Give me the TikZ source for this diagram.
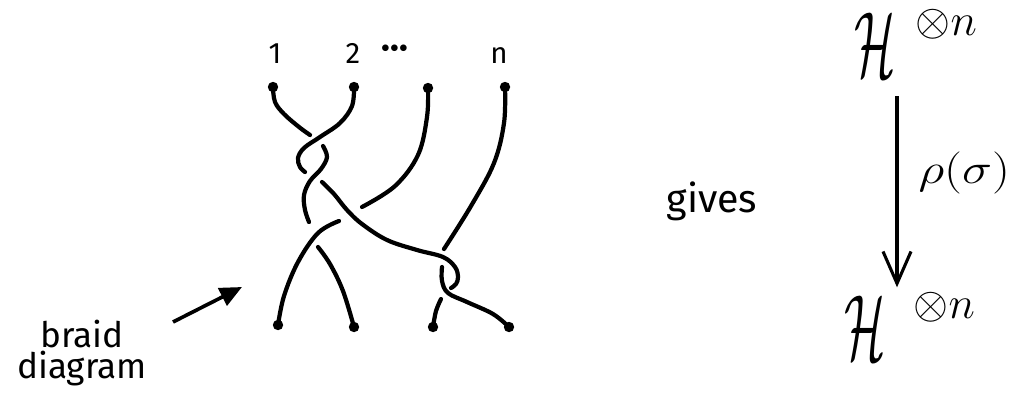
\RequirePackage{fix-cm}
\documentclass[tikz,border=0pt]{standalone}
\usepackage{fontspec}
\setmainfont{Fira Sans}
\usetikzlibrary{arrows.meta}
\begin{document}
\begin{tikzpicture}[x=0.25mm,y=-0.25mm,
  strand/.style={line width=3pt, line cap=round, line join=round},
  pl/.style={smooth, tension=0.6},
  dot/.style={circle, fill, inner sep=0pt, minimum size=2.6mm},
  lbl/.style={font=\fontsize{21}{21}\selectfont, inner sep=0pt},
  word/.style={font=\fontsize{25}{22}\selectfont, inner sep=0pt},
  bigH/.style={font=\fontsize{66}{66}\selectfont, inner sep=0pt, anchor=base},
  varrow/.style={line width=2.2pt, -{Straight Barb[length=8mm,width=7mm]}},
  parrow/.style={line width=2.6pt, -{Triangle[length=5.5mm,width=4.8mm]}},
]
\useasboundingbox (0,0) rectangle (1016,407);

% endpoints
\node[dot] (t1) at (273,87) {};
\node[dot] (t2) at (354,87) {};
\node[dot] (t3) at (428,88) {};
\node[dot] (t4) at (505,87) {};
\node[dot] (b1) at (278,325) {};
\node[dot] (b2) at (354,327) {};
\node[dot] (b3) at (433,327) {};
\node[dot] (b4) at (509,327) {};

% strand labels
\node[lbl, anchor=base] (l1) at (275,63) {1};
\node[lbl, anchor=base] (l2) at (353,63) {2};
\node[inner sep=0pt, font=\fontsize{26}{26}\selectfont\bfseries] (ldots) at (395,52) {\textperiodcentered\textperiodcentered\textperiodcentered};
\node[lbl, anchor=base] (ln) at (499,63) {n};

% strand 1
\draw[strand] plot[pl] coordinates {(t1.center) (275,102) (284,114) (299,127) (310,135)};
\draw[strand] plot[pl] coordinates {(323,146) (327,157) (321,169) (310,181) (304,195) (305,210) (309,222)};
\draw[strand] plot[pl] coordinates {(318,247) (330,264) (343,291) (b2.center)};
% strand 2
\draw[strand] plot[pl] coordinates {(t2.center) (352,106) (340,123) (320,137) (304,148) (298,158) (300,167) (305,172)};
\draw[strand] plot[pl] coordinates {(322,182) (334,194) (347,210) (362,224) (387,240) (417,250) (443,257) (455,267) (458,277) (456,284) (451,288)};
\draw[strand] plot[pl] coordinates {(441,299) (436,311) (b3.center)};
% strand 3
\draw[strand] plot[pl] coordinates {(t3.center) (427,117) (418,155) (395,186) (362,207)};
\draw[strand] plot[pl] coordinates {(339,221) (318,233) (298,262) (284,296) (b1.center)};
% strand 4
\draw[strand] plot[pl] coordinates {(t4.center) (504,123) (494,163) (471,206) (444,249)};
\draw[strand] plot[pl] coordinates {(442,267) (442,281) (448,293) (467,302) (493,314) (b4.center)};

% braid diagram label + arrow
\node[word, align=center, anchor=base] (bd) at (82,378) {braid\\diagram};
\coordinate (atail) at (173,322);
\coordinate (atip) at (242,287);
\draw[parrow] (atail) -- (atip);

% gives
\node[font=\fontsize{28}{28}\selectfont, inner sep=0pt, anchor=base] (gives) at (712,212) {gives};

% H^{\otimes n}
\node[bigH] (H1) at (875,76) {\scalebox{0.52}[1]{$\mathcal{H}$}\rlap{\hspace{5mm}\smash{\raisebox{10.2mm}{\fontsize{32}{32}\selectfont$\otimes n$}}}};
\node[bigH] (H2) at (865,359) {\scalebox{0.52}[1]{$\mathcal{H}$}\rlap{\hspace{7mm}\smash{\raisebox{10.2mm}{\fontsize{32}{32}\selectfont$\otimes n$}}}};
\coordinate (ax) at (897,0);
\draw[varrow, shorten <=5mm, shorten >=2mm] (H1.south -| ax) -- (H2.north -| ax)
  node[pos=0.44, anchor=west, xshift=5mm, font=\fontsize{30}{30}\selectfont, inner sep=0pt] (rho) {\scalebox{1.2}[1]{$\rho(\sigma)$}};
\end{tikzpicture}
\end{document}
